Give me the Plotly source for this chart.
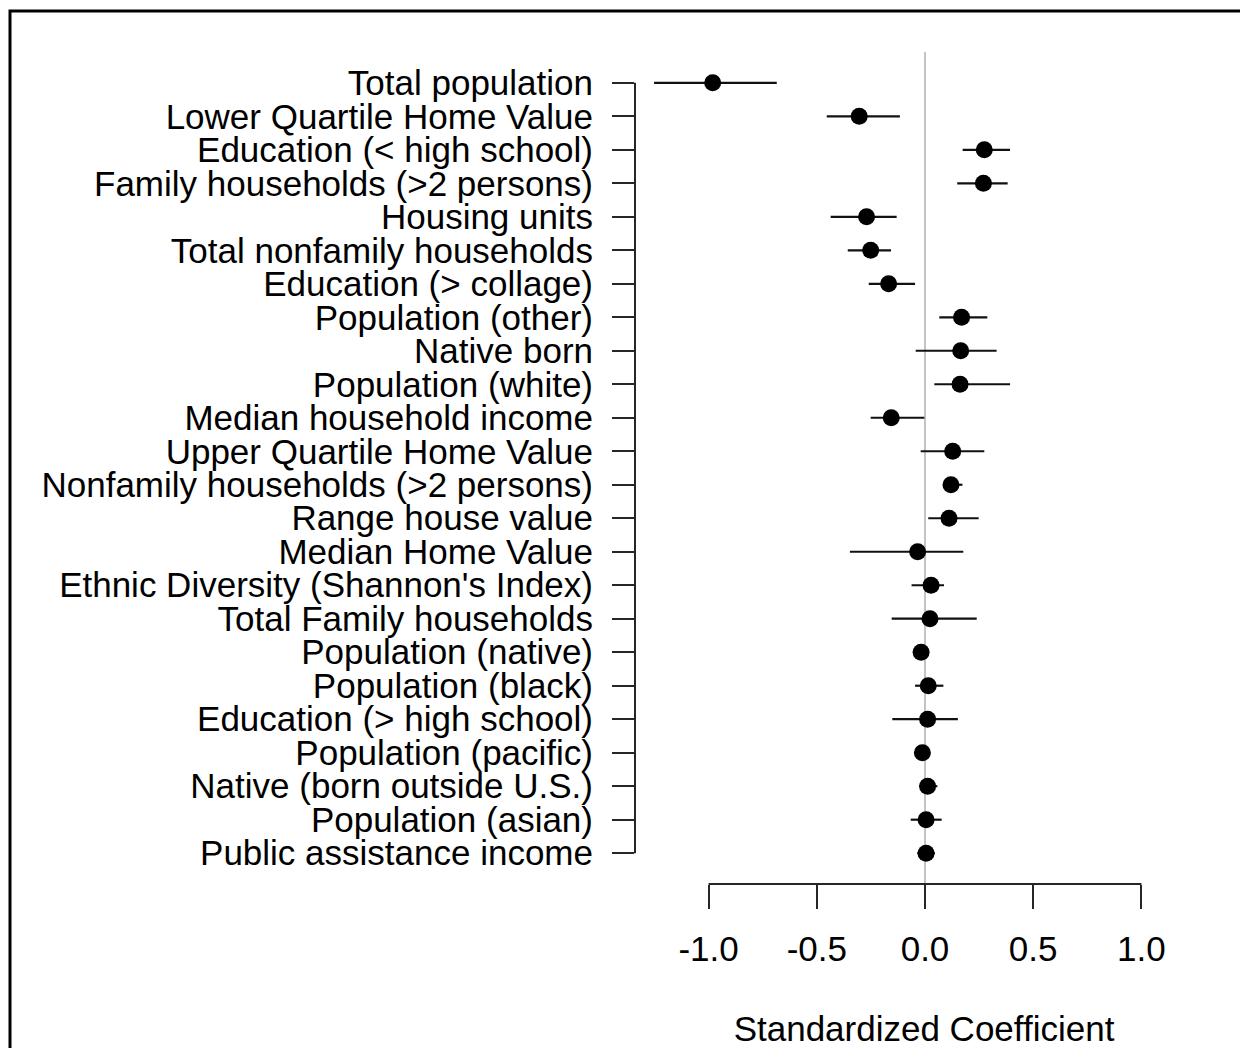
import plotly.graph_objects as go

# ---- data (top to bottom) ----
labels = [
    "Total population",
    "Lower Quartile Home Value",
    "Education (< high school)",
    "Family households (>2 persons)",
    "Housing units",
    "Total nonfamily households",
    "Education (> collage)",
    "Population (other)",
    "Native born",
    "Population (white)",
    "Median household income",
    "Upper Quartile Home Value",
    "Nonfamily households (>2 persons)",
    "Range house value",
    "Median Home Value",
    "Ethnic Diversity (Shannon's Index)",
    "Total Family households",
    "Population (native)",
    "Population (black)",
    "Education (> high school)",
    "Population (pacific)",
    "Native (born outside U.S.)",
    "Population (asian)",
    "Public assistance income",
]
estimate = [-0.981, -0.304, 0.274, 0.270, -0.270, -0.251, -0.168, 0.169, 0.165, 0.162,
            -0.156, 0.128, 0.120, 0.111, -0.034, 0.028, 0.023, -0.018, 0.015, 0.012,
            -0.012, 0.012, 0.005, 0.005]
lower = [-1.252, -0.454, 0.174, 0.149, -0.436, -0.357, -0.260, 0.066, -0.043, 0.043,
         -0.251, -0.020, 0.085, 0.015, -0.347, -0.062, -0.154, -0.030, -0.046, -0.151,
         -0.025, -0.026, -0.066, -0.036]
upper = [-0.685, -0.116, 0.393, 0.382, -0.131, -0.157, -0.046, 0.288, 0.331, 0.393,
         -0.003, 0.274, 0.173, 0.248, 0.177, 0.088, 0.239, -0.005, 0.085, 0.152,
         0.000, 0.057, 0.077, 0.046]
x_ticks = [-1.0, -0.5, 0.0, 0.5, 1.0]
x_tick_text = ["-1.0", "-0.5", "0.0", "0.5", "1.0"]
x_title = "Standardized Coefficient"

n = len(labels)
ypos = [n - i for i in range(n)]
err_plus = [u - e for u, e in zip(upper, estimate)]
err_minus = [e - l for e, l in zip(estimate, lower)]

# page has an 8px body margin, so the figure is laid out 8px smaller
W, H = 1240, 1040
ML, MR, MT, MB = 627, 35, 44, 164
pw, ph = W - ML - MR, H - MT - MB
ZERO_PX = 917          # pixel of x = 0 inside the figure
UNIT_PX = 216.4        # pixels per unit on x
FONT = "Liberation Sans, Arial, sans-serif"
FS = 35
AX = "#262626"

fig = go.Figure()
fig.add_trace(go.Scatter(
    x=estimate, y=ypos, mode="markers",
    marker=dict(size=17, color="black", line=dict(width=0)),
    error_x=dict(type="data", symmetric=False, array=err_plus, arrayminus=err_minus,
                 width=0, thickness=2.2, color="#111111"),
    showlegend=False, hoverinfo="skip",
))

def px2paper_x(px):
    return (px - ML) / pw

def py2paper_y(py):
    return (H - MB - py) / ph

shapes = [
    # zero reference line
    dict(type="line", xref="x", yref="paper", x0=0, x1=0, y0=0, y1=1,
         line=dict(color="#c4c4c4", width=2), layer="below"),
    # R-style x axis line between outer ticks
    dict(type="line", xref="x", yref="paper", x0=min(x_ticks), x1=max(x_ticks), y0=0, y1=0,
         line=dict(color=AX, width=2)),
    # R-style y axis line between outer ticks
    dict(type="line", xref="paper", yref="y", x0=0, x1=0, y0=min(ypos), y1=max(ypos),
         line=dict(color=AX, width=2)),
    # figure frame
    dict(type="rect", xref="paper", yref="paper",
         x0=px2paper_x(2), x1=px2paper_x(1260), y0=py2paper_y(3), y1=py2paper_y(1060),
         line=dict(color="black", width=3), fillcolor="rgba(0,0,0,0)"),
]

fig.update_layout(
    width=W, height=H,
    margin=dict(l=ML, r=MR, t=MT, b=MB, pad=0, autoexpand=False),
    paper_bgcolor="white", plot_bgcolor="white",
    font=dict(family=FONT, size=FS, color="black"),
    shapes=shapes,
    xaxis=dict(
        range=[(ML - ZERO_PX) / UNIT_PX, (W - MR - ZERO_PX) / UNIT_PX],
        tickvals=x_ticks, ticktext=x_tick_text,
        ticks="outside", ticklen=24, tickwidth=2, tickcolor=AX,
        ticklabelstandoff=10, automargin=False,
        showgrid=False, zeroline=False, showline=False,
        title=dict(text=x_title, standoff=50, font=dict(size=FS)),
        tickfont=dict(size=FS),
    ),
    yaxis=dict(
        range=[0.08, 24.92],
        tickvals=ypos, ticktext=labels,
        ticks="outside", ticklen=22, tickwidth=2, tickcolor=AX,
        ticklabelstandoff=12, automargin=False,
        showgrid=False, zeroline=False, showline=False,
        tickfont=dict(size=FS),
    ),
)

fig.write_html("out.html")
